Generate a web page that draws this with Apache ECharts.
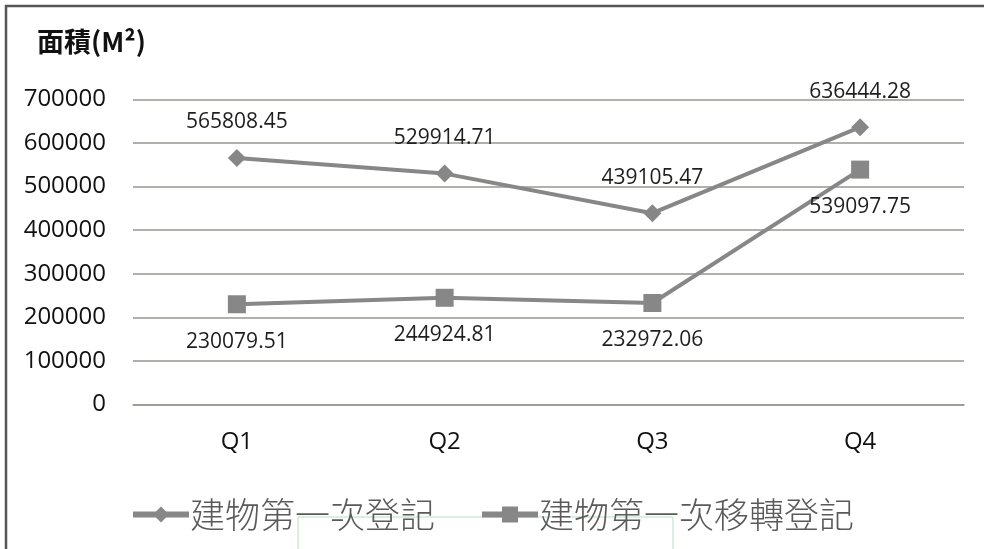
<!DOCTYPE html>
<html>
<head>
<meta charset="utf-8">
<script src="https://cdn.jsdelivr.net/npm/echarts@6/dist/echarts.min.js"></script>
<style>
  html, body { margin: 0; padding: 0; background: #fff; }
  #chart { width: 984px; height: 549px; }
</style>
</head>
<body>
<div id="chart"></div>
<script>
// Quarterly building registration area (square metres)
const quarters = ['Q1', 'Q2', 'Q3', 'Q4'];
const firstRegistration = [565808.45, 529914.71, 439105.47, 636444.28];
const firstTransfer = [230079.51, 244924.81, 232972.06, 539097.75];
const seriesNames = ['建物第一次登記', '建物第一次移轉登記'];
const yTicks = [0, 100000, 200000, 300000, 400000, 500000, 600000, 700000];

const latin = '"Open Sans", "Noto Sans", sans-serif';
const cjk = '"Noto Sans CJK TC", "Noto Sans CJK SC", sans-serif';

const chart = echarts.init(document.getElementById('chart'), null, { renderer: 'canvas' });

const labelStyle = {
  show: true,
  fontFamily: latin,
  fontSize: 21,
  color: '#1e1e1e',
  formatter: p => p.value.toFixed(2)
};

chart.setOption({
  animation: false,
  backgroundColor: '#ffffff',
  grid: { left: 133, right: 20, top: 99.5, bottom: 144.5 },
  graphic: [
    // frame edges
    { type: 'line', shape: { x1: 5, y1: 6, x2: 984, y2: 6 }, style: { stroke: '#555', lineWidth: 2.5 } },
    { type: 'line', shape: { x1: 6, y1: 5, x2: 6, y2: 549 }, style: { stroke: '#555', lineWidth: 2.5 } },
    // thin green box under the legend
    { type: 'rect', shape: { x: 298, y: 517, width: 375, height: 40 }, style: { fill: 'none', stroke: '#b9e0c0', lineWidth: 1 } },
    // unit title
    { type: 'text', left: 37, top: 28, style: { text: '面積(M²)', font: 'bold 27px ' + cjk, fill: '#111' } }
  ],
  xAxis: {
    type: 'category',
    data: quarters,
    boundaryGap: true,
    axisLine: { show: true, lineStyle: { color: '#9a9690', width: 1.5 } },
    axisTick: { show: false },
    axisLabel: { margin: 26, fontFamily: latin, fontSize: 24, color: '#111' }
  },
  yAxis: {
    type: 'value',
    min: yTicks[0],
    max: yTicks[yTicks.length - 1],
    interval: yTicks[1] - yTicks[0],
    axisLine: { show: false },
    axisTick: { show: false },
    splitLine: { show: true, lineStyle: { color: '#9a9690', width: 1.5 } },
    axisLabel: { margin: 27, fontFamily: latin, fontSize: 24, color: '#111', formatter: v => String(v) }
  },
  legend: {
    bottom: 12,
    left: 'center',
    itemWidth: 56,
    itemHeight: 20,
    itemGap: 44,
    lineStyle: { width: 6 },
    textStyle: { fontFamily: cjk, fontSize: 35, color: '#5a5a5a', fontWeight: 300, padding: [0, 0, 0, -4] },
    data: seriesNames
  },
  series: [
    {
      name: seriesNames[0],
      type: 'line',
      data: firstRegistration,
      symbol: 'diamond',
      symbolSize: 18,
      lineStyle: { color: '#878787', width: 4 },
      itemStyle: { color: '#878787' },
      label: Object.assign({ position: 'top', distance: 16 }, labelStyle)
    },
    {
      name: seriesNames[1],
      type: 'line',
      data: firstTransfer,
      symbol: 'rect',
      symbolSize: 18,
      lineStyle: { color: '#878787', width: 4 },
      itemStyle: { color: '#878787' },
      label: Object.assign({ position: 'bottom', distance: 18 }, labelStyle)
    }
  ]
});
</script>
</body>
</html>
